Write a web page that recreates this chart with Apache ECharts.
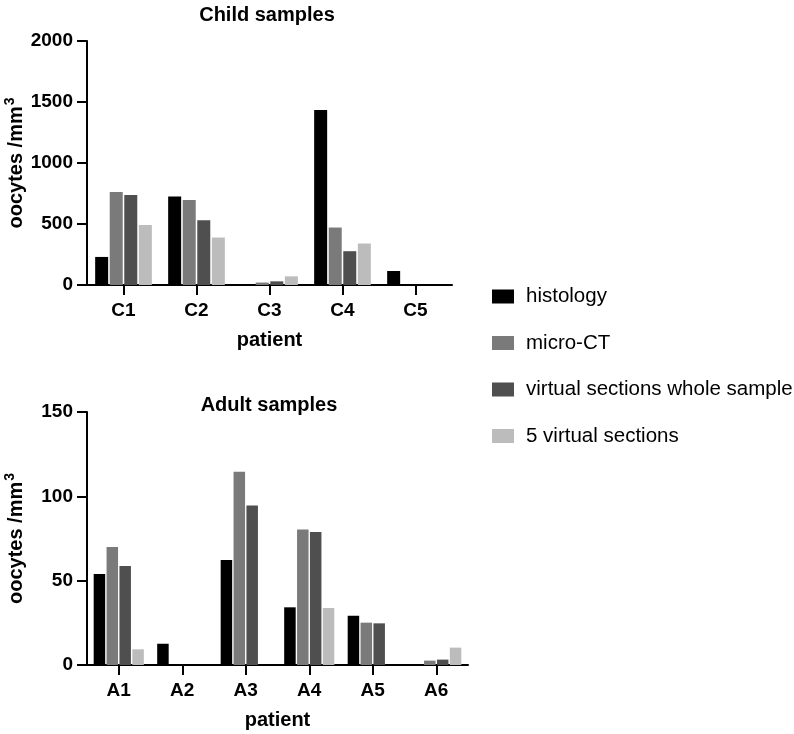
<!DOCTYPE html>
<html>
<head>
<meta charset="utf-8">
<script src="https://cdn.jsdelivr.net/npm/echarts@6/dist/echarts.min.js"></script>
<style>
  html, body { margin: 0; padding: 0; background: #fff; }
  #chart { width: 794px; height: 734px; }
</style>
</head>
<body>
<div id="chart"></div>
<script>
// child samples
var childCats = ['C1', 'C2', 'C3', 'C4', 'C5'];
var childHistology = [230, 725, 0, 1434, 115];
var childMicroCT = [762, 697, 20, 471, 0];
var childVirtualWhole = [738, 531, 30, 277, 0];
var childFiveVirtual = [492, 389, 71, 340, 0];

// adult samples
var adultCats = ['A1', 'A2', 'A3', 'A4', 'A5', 'A6'];
var adultHistology = [54, 12.6, 62.2, 34.2, 29.2, 0];
var adultMicroCT = [70, 0, 114.6, 80.4, 25.1, 2.6];
var adultVirtualWhole = [58.7, 0, 94.6, 78.8, 24.7, 3.2];
var adultFiveVirtual = [9.3, 0, 0, 33.8, 0, 10.3];

var seriesNames = ['histology', 'micro-CT', 'virtual sections whole sample', '5 virtual sections'];
var seriesColors = ['#000000', '#7a7a7a', '#4f4f4f', '#bcbcbc'];

var FONT = 'Liberation Sans, Arial, Helvetica, sans-serif';

var axisLine = { show: true, lineStyle: { color: '#000', width: 2 } };

var yName = '{n|oocytes /mm}{s|3}';
var yNameStyle = {
    fontFamily: FONT,
    rich: {
        n: { fontSize: 20, fontWeight: 'bold', color: '#000', fontFamily: FONT },
        s: { fontSize: 14, fontWeight: 'bold', color: '#000', fontFamily: FONT, verticalAlign: 'top', padding: [0, 0, 12, 1] }
    }
};

var makeX = function (idx, cats) {
    return {
        type: 'category', gridIndex: idx, data: cats,
        axisLine: axisLine,
        axisTick: { show: true, alignWithLabel: true, interval: 0, length: 10, lineStyle: { color: '#000', width: 2 } },
        axisLabel: { color: '#000', fontSize: 19, fontWeight: 'bold', fontFamily: FONT, margin: 16, interval: 0 },
        name: 'patient', nameLocation: 'middle', nameGap: 45,
        nameTextStyle: { color: '#000', fontSize: 20, fontWeight: 'bold', fontFamily: FONT }
    };
};
var makeY = function (idx, max, step) {
    return {
        type: 'value', gridIndex: idx, min: 0, max: max, interval: step,
        axisLine: axisLine,
        axisTick: { show: true, length: 10, lineStyle: { color: '#000', width: 2 } },
        splitLine: { show: false },
        axisLabel: { color: '#000', fontSize: 19, fontWeight: 'bold', fontFamily: FONT, margin: 14,
                     formatter: function (v) { return String(v); } },
        name: yName, nameLocation: 'middle', nameRotate: 90, nameGap: 58,
        nameTextStyle: yNameStyle
    };
};

var makeSeries = function (idx, lists, width) {
    return lists.map(function (vals, i) {
        return {
            name: seriesNames[i], type: 'bar',
            xAxisIndex: idx, yAxisIndex: idx,
            data: vals, barWidth: width, barGap: '12%',
            itemStyle: { color: seriesColors[i] }
        };
    });
};

var chart = echarts.init(document.getElementById('chart'), null, { renderer: 'canvas' });
chart.setOption({
    animation: false,
    backgroundColor: '#fff',
    title: [
        { text: 'Child samples', left: 262, top: 0, textAlign: 'center',
          textStyle: { fontSize: 20, fontWeight: 'bold', color: '#000', fontFamily: FONT } },
        { text: 'Adult samples', left: 264, top: 390, textAlign: 'center',
          textStyle: { fontSize: 20, fontWeight: 'bold', color: '#000', fontFamily: FONT } }
    ],
    legend: {
        data: seriesNames, orient: 'vertical', left: 487, top: 281,
        icon: 'rect', itemWidth: 22, itemHeight: 14, itemGap: 25.5,
        selectedMode: false,
        textStyle: { fontSize: 20.5, color: '#000', fontFamily: FONT, padding: [0, 0, 0, 7] }
    },
    grid: [
        { left: 87, top: 41, width: 365, height: 244 },
        { left: 87, top: 412, width: 381, height: 253 }
    ],
    xAxis: [makeX(0, childCats), makeX(1, adultCats)],
    yAxis: [makeY(0, 2000, 500), makeY(1, 150, 50)],
    series: makeSeries(0, [childHistology, childMicroCT, childVirtualWhole, childFiveVirtual], 13)
        .concat(makeSeries(1, [adultHistology, adultMicroCT, adultVirtualWhole, adultFiveVirtual], 11.5))
});
</script>
</body>
</html>
